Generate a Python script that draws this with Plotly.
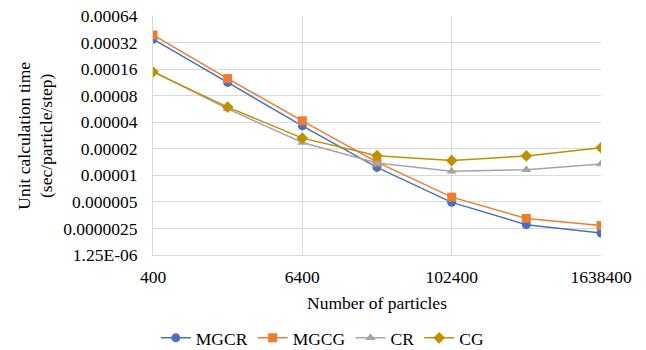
import plotly.graph_objects as go

particles = [400, 1600, 6400, 25600, 102400, 409600, 1638400]
mgcr = [0.00035, 0.000113, 0.0000364, 0.0000123, 0.00000494, 0.00000276, 0.00000222]
mgcg = [0.00039, 0.000125, 0.0000415, 0.0000141, 0.00000566, 0.00000325, 0.0000027]
cr = [0.000151, 0.0000567, 0.0000236, 0.0000138, 0.0000111, 0.0000116, 0.0000134]
cg = [0.000149, 0.0000594, 0.0000264, 0.0000167, 0.0000147, 0.0000166, 0.0000206]

x_ticks = [400, 6400, 102400, 1638400]
y_ticks = [1.25e-06, 0.0000025, 0.000005, 0.00001, 0.00002, 0.00004, 0.00008, 0.00016, 0.00032, 0.00064]
y_labels = ["1.25E-06", "0.0000025", "0.000005", "0.00001", "0.00002", "0.00004", "0.00008", "0.00016", "0.00032", "0.00064"]

series = [
    ("MGCR", mgcr, "#4472C4", "circle"),
    ("MGCG", mgcg, "#ED7D31", "square"),
    ("CR", cr, "#A5A5A5", "triangle-up"),
    ("CG", cg, "#BF9000", "diamond"),
]

FONT = "Liberation Serif, Times New Roman, serif"
FS = 17.5
fig = go.Figure()
for name, vals, color, sym in series:
    fig.add_trace(go.Scatter(
        x=particles, y=vals, name=name, mode="lines+markers",
        line=dict(color=color, width=1.5),
        marker=dict(symbol=sym, size=9, color=color),
    ))

fig.update_layout(
    width=646, height=350,
    margin=dict(l=153, r=45, t=16, b=95, autoexpand=False),
    paper_bgcolor="white", plot_bgcolor="white",
    font=dict(family=FONT, size=FS, color="#000000"),
    showlegend=True,
    legend=dict(orientation="h", x=0.379, xanchor="center", y=-0.347, yanchor="middle",
                font=dict(family=FONT, size=FS), itemwidth=30, tracegroupgap=0,
                bgcolor="rgba(0,0,0,0)"),
    annotations=[
        dict(text="Unit calculation time<br>(sec/particle/step)",
             textangle=-90, xref="paper", yref="paper", x=-0.263, y=0.5,
             xanchor="center", yanchor="middle", showarrow=False,
             font=dict(family=FONT, size=FS)),
        dict(text="Number of particles", xref="paper", yref="paper",
             x=0.5, y=-0.2, xanchor="center", yanchor="middle", showarrow=False,
             font=dict(family=FONT, size=FS)),
    ],
)
fig.update_xaxes(
    type="log", range=[2.60206, 6.21442],
    tickvals=x_ticks, ticktext=[str(v) for v in x_ticks],
    showgrid=True, gridcolor="#D9D9D9", gridwidth=1,
    showline=True, linecolor="#D9D9D9", mirror=False,
    ticks="", zeroline=False, ticklabelstandoff=6,
)
fig.update_yaxes(
    type="log", range=[-5.90309, -3.19382],
    tickvals=y_ticks, ticktext=y_labels,
    showgrid=True, gridcolor="#D9D9D9", gridwidth=1,
    showline=True, linecolor="#D9D9D9",
    ticks="", zeroline=False, ticklabelstandoff=11,
)
fig.write_html("out.html", config={"displayModeBar": False},
               post_script="document.body.style.margin='0';")
